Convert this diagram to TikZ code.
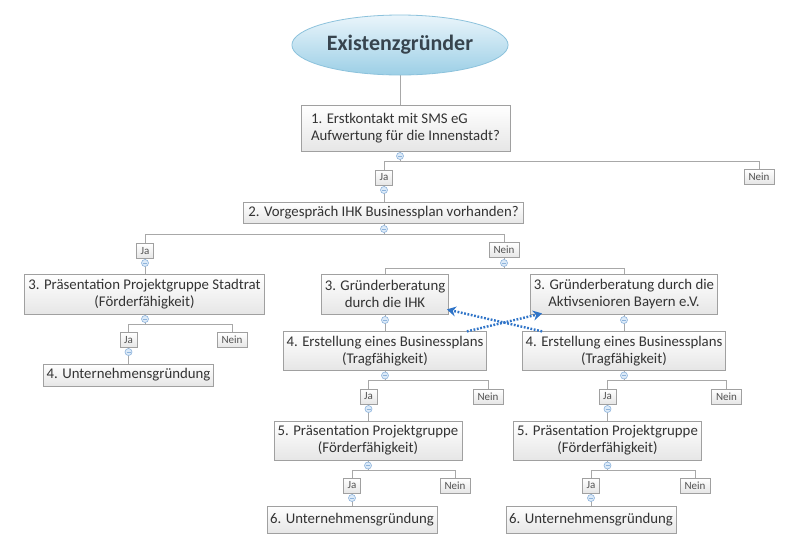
\documentclass[tikz,border=0pt]{standalone}
\usepackage{fontspec}
\setmainfont{Carlito}
\usetikzlibrary{arrows.meta,shapes.geometric}
\pgfdeclarelayer{bg}
\pgfsetlayers{bg,main}
\definecolor{txt}{HTML}{333333}
\definecolor{boxline}{HTML}{A0A0A0}
\definecolor{boxbot}{HTML}{E6E6E6}
\definecolor{connline}{HTML}{A8A8A8}
\definecolor{knobline}{HTML}{8EB4DC}
\definecolor{knobfill}{HTML}{DCEAF8}
\definecolor{ttop}{HTML}{EAF5FB}
\definecolor{tbot}{HTML}{9CCFE6}
\definecolor{tline}{HTML}{8CC2DC}
\definecolor{ttext}{HTML}{37444E}
\definecolor{arrblue}{HTML}{2F74C8}
\begin{document}
\begin{tikzpicture}[x=1pt,y=-1pt,
  box/.style={draw=boxline, line width=0.8pt, top color=white, bottom color=boxbot, text=txt,
    font=\fontsize{14.8}{17}\selectfont, align=center, inner sep=1pt},
  yn/.style={draw=boxline, line width=0.8pt, top color=white, bottom color=boxbot, text=txt!85,
    font=\fontsize{11}{12}\selectfont, inner sep=0pt, minimum height=15},
  ja/.style={yn, minimum width=17},
  nein/.style={yn, minimum width=30},
  knob/.style={circle, draw=knobline, fill=knobfill, line width=0.6pt, minimum size=7, inner sep=0pt,
    path picture={\draw[knobline, line width=0.6pt] ([xshift=-2pt]path picture bounding box.center) -- ([xshift=2pt]path picture bounding box.center);}},
  conn/.style={draw=connline, line width=0.9pt},
  dotarrow/.style={draw=arrblue, line width=2.4pt, dash pattern=on 1.8pt off 1.6pt, -{Stealth[length=9pt,width=10pt]}}
]
\useasboundingbox (0,0) rectangle (792,555);

% title
\node[ellipse, draw=tline, line width=0.8pt, top color=ttop, bottom color=tbot, minimum width=194, minimum height=60,
  text=ttext, font=\fontsize{22}{24}\selectfont\bfseries] (title) at (400,45) {Existenzgründer};

% level 1
\node[box, align=left, minimum width=209, minimum height=46] (b1) at (405.5,128) {1. Erstkontakt mit SMS eG\\Aufwertung für die Innenstadt?};
\node[knob] (k1) at (400,156) {};
\coordinate (br1) at (400,161);
\node[ja] (ja1) at (384,177.5) {Ja};
\node[nein] (nein1) at (759,176.5) {Nein};
\node[knob] (k2) at (384,190) {};

% level 2
\node[box, minimum width=280, minimum height=21] (b2) at (383.5,213) {2. Vorgespräch IHK Businessplan vorhanden?};
\node[knob] (k3) at (384,229) {};
\coordinate (br2) at (384,234.3);
\node[ja] (ja2) at (145,251) {Ja};
\node[nein] (nein2) at (504,250) {Nein};
\node[knob] (k4) at (145,263) {};
\node[knob] (k7) at (504,263) {};
\coordinate (br4) at (504,268.3);

% left branch
\node[box, minimum width=240, minimum height=40] (b3L) at (144.5,294) {3. Präsentation Projektgruppe Stadtrat\\(Förderfähigkeit)};
\node[knob] (k5) at (145,319) {};
\coordinate (br3) at (145,324);
\node[ja] (ja3) at (128.5,340) {Ja};
\node[nein] (nein3) at (232,340) {Nein};
\node[knob] (k6) at (128.5,352) {};
\node[box, minimum width=170, minimum height=22] (b4L) at (128.5,375) {4. Unternehmensgründung};

% middle branch
\node[box, minimum width=127, minimum height=40] (b3M) at (385,294) {3. Gründerberatung\\durch die IHK};
\node[knob] (k8) at (385,320) {};
\node[box, minimum width=203, minimum height=38.5] (b4M) at (385,351) {4. Erstellung eines Businessplans\\(Tragfähigkeit)};
\node[knob] (k10) at (385,375.5) {};
\coordinate (br5) at (385,380.5);
\node[ja] (ja4) at (368.5,396.5) {Ja};
\node[nein] (nein4) at (488,396.5) {Nein};
\node[knob] (k11) at (368.5,409) {};
\node[box, minimum width=188, minimum height=39] (b5M) at (368,440.5) {5. Präsentation Projektgruppe\\(Förderfähigkeit)};
\node[knob] (k12) at (368,465.5) {};
\coordinate (br6) at (368,470.3);
\node[ja] (ja5) at (352,485.5) {Ja};
\node[nein] (nein5) at (455,485.5) {Nein};
\node[knob] (k13) at (352,498) {};
\node[box, minimum width=170, minimum height=27] (b6M) at (352,519.5) {6. Unternehmensgründung};

% right branch
\node[box, minimum width=187, minimum height=40] (b3R) at (624,294) {3. Gründerberatung durch die\\Aktivsenioren Bayern e.V.};
\node[knob] (k9) at (624,320) {};
\node[box, minimum width=203, minimum height=38.5] (b4R) at (624,351) {4. Erstellung eines Businessplans\\(Tragfähigkeit)};
\node[knob] (k14) at (624,375.5) {};
\coordinate (br7) at (624,380.5);
\node[ja] (ja6) at (607.5,396.5) {Ja};
\node[nein] (nein6) at (726.5,396.5) {Nein};
\node[knob] (k15) at (607.5,409) {};
\node[box, minimum width=188, minimum height=39] (b5R) at (607.5,440.5) {5. Präsentation Projektgruppe\\(Förderfähigkeit)};
\node[knob] (k16) at (607.5,465.5) {};
\coordinate (br8) at (607.5,470.3);
\node[ja] (ja7) at (591,485.5) {Ja};
\node[nein] (nein7) at (695,485.5) {Nein};
\node[knob] (k17) at (591,498) {};
\node[box, minimum width=170, minimum height=27] (b6R) at (591,519.5) {6. Unternehmensgründung};

% connectors
\begin{pgfonlayer}{bg}
\fill[white] (0,0) rectangle (792,555);
\draw[conn] (title.south) -- (title.south |- b1.north);
\draw[conn] (k1 |- b1.south) -- (br1) -| (ja1.north);
\draw[conn] (br1) -| (nein1.north);
\draw[conn] (k2 |- ja1.south) -- (k2 |- b2.north);
\draw[conn] (k3 |- b2.south) -- (br2) -| (ja2.north);
\draw[conn] (br2) -| (nein2.north);
\draw[conn] (k4 |- ja2.south) -- (k4 |- b3L.north);
\draw[conn] (k5 |- b3L.south) -- (br3) -| (ja3.north);
\draw[conn] (br3) -| (nein3.north);
\draw[conn] (k6 |- ja3.south) -- (k6 |- b4L.north);
\draw[conn] (k7 |- nein2.south) -- (br4) -| (b3M.north);
\draw[conn] (br4) -| (b3R.north);
\draw[conn] (k8 |- b3M.south) -- (k8 |- b4M.north);
\draw[conn] (k9 |- b3R.south) -- (k9 |- b4R.north);
\draw[conn] (k10 |- b4M.south) -- (br5) -| (ja4.north);
\draw[conn] (br5) -| (nein4.north);
\draw[conn] (k11 |- ja4.south) -- (k11 |- b5M.north);
\draw[conn] (k12 |- b5M.south) -- (br6) -| (ja5.north);
\draw[conn] (br6) -| (nein5.north);
\draw[conn] (k13 |- ja5.south) -- (k13 |- b6M.north);
\draw[conn] (k14 |- b4R.south) -- (br7) -| (ja6.north);
\draw[conn] (br7) -| (nein6.north);
\draw[conn] (k15 |- ja6.south) -- (k15 |- b5R.north);
\draw[conn] (k16 |- b5R.south) -- (br8) -| (ja7.north);
\draw[conn] (br8) -| (nein7.north);
\draw[conn] (k17 |- ja7.south) -- (k17 |- b6R.north);
\end{pgfonlayer}

% cross references
\draw[dotarrow] ([xshift=-20pt]b4M.north east) -- ([xshift=12pt,yshift=1pt]b3R.south west);
\draw[dotarrow] ([xshift=20pt]b4R.north west) -- ([xshift=-2pt,yshift=5pt]b3M.south east);
\end{tikzpicture}
\end{document}
